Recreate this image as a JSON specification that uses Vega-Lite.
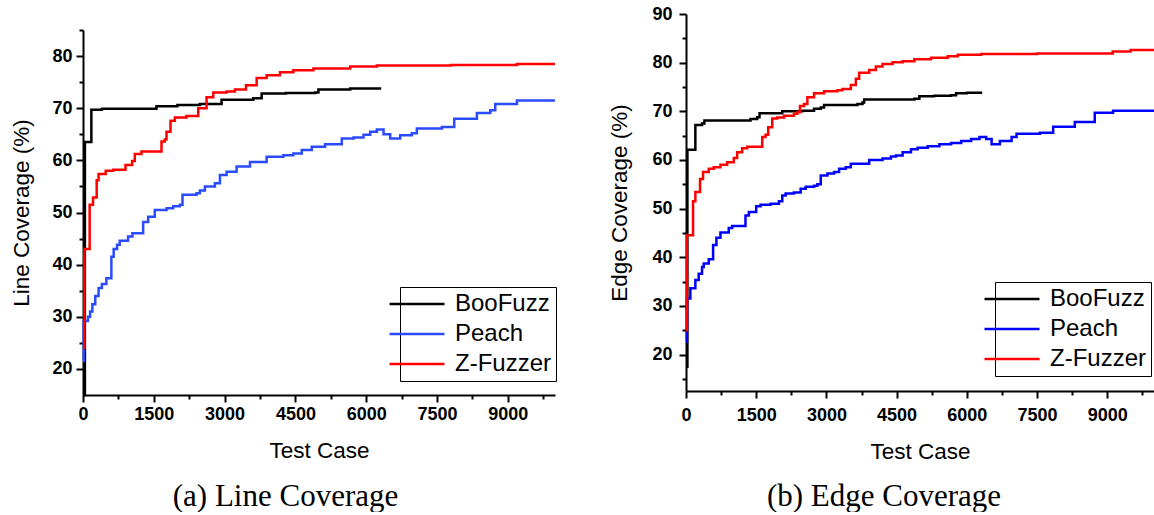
{
  "$schema": "https://vega.github.io/schema/vega-lite/v6.json",
  "padding": {"left": 10, "top": 5, "right": 0, "bottom": 0},
  "spacing": 48,
  "config": {
    "view": {"stroke": null},
    "axis": {
      "grid": false,
      "domainColor": "black", "domainWidth": 2,
      "tickColor": "black", "tickWidth": 2, "tickSize": 7,
      "labelFont": "Liberation Sans", "labelFontWeight": "bold", "labelFontSize": 18, "labelColor": "black",
      "titleFont": "Liberation Sans", "titleFontWeight": "normal", "titleFontSize": 22.5, "titleColor": "black"
    },
    "legend": {
      "orient": "none", "strokeColor": "black", "fillColor": "white", "padding": 5,
      "labelFont": "Liberation Sans", "labelFontSize": 24, "labelColor": "black",
      "symbolType": "M-5,0H5", "symbolSize": 121, "symbolStrokeWidth": 2.5,
      "labelOffset": 26, "rowPadding": 6
    },
    "title": {"font": "Liberation Serif", "fontSize": 31, "fontWeight": "normal", "color": "black", "orient": "bottom", "frame": "bounds"}
  },
  "datasets": {
    "line": [
      {"tool": "BooFuzz", "t": 0, "v": 15}, {"tool": "BooFuzz", "t": 40, "v": 63.5}, {"tool": "BooFuzz", "t": 177, "v": 69.7}, {"tool": "BooFuzz", "t": 400, "v": 69.9}, {"tool": "BooFuzz", "t": 1556, "v": 70.4}, {"tool": "BooFuzz", "t": 2000, "v": 70.6}, {"tool": "BooFuzz", "t": 2476, "v": 70.8}, {"tool": "BooFuzz", "t": 2936, "v": 71.6}, {"tool": "BooFuzz", "t": 3608, "v": 71.9}, {"tool": "BooFuzz", "t": 3785, "v": 72.8}, {"tool": "BooFuzz", "t": 4300, "v": 72.9}, {"tool": "BooFuzz", "t": 4917, "v": 73.0}, {"tool": "BooFuzz", "t": 4988, "v": 73.6}, {"tool": "BooFuzz", "t": 5660, "v": 73.8}, {"tool": "BooFuzz", "t": 6318, "v": 73.8},
      {"tool": "Peach", "t": 0, "v": 21.5}, {"tool": "Peach", "t": 15, "v": 29.2}, {"tool": "Peach", "t": 106, "v": 30.0}, {"tool": "Peach", "t": 150, "v": 31.0}, {"tool": "Peach", "t": 198, "v": 32.4}, {"tool": "Peach", "t": 260, "v": 34.0}, {"tool": "Peach", "t": 330, "v": 35.5}, {"tool": "Peach", "t": 400, "v": 36.3}, {"tool": "Peach", "t": 495, "v": 37.4}, {"tool": "Peach", "t": 601, "v": 41.5}, {"tool": "Peach", "t": 650, "v": 43.0}, {"tool": "Peach", "t": 722, "v": 43.8}, {"tool": "Peach", "t": 778, "v": 44.6}, {"tool": "Peach", "t": 955, "v": 45.4}, {"tool": "Peach", "t": 1047, "v": 46.0}, {"tool": "Peach", "t": 1274, "v": 48.2}, {"tool": "Peach", "t": 1380, "v": 49.2}, {"tool": "Peach", "t": 1521, "v": 50.5}, {"tool": "Peach", "t": 1769, "v": 50.8}, {"tool": "Peach", "t": 1910, "v": 51.2}, {"tool": "Peach", "t": 2052, "v": 51.5}, {"tool": "Peach", "t": 2108, "v": 53.4}, {"tool": "Peach", "t": 2406, "v": 53.7}, {"tool": "Peach", "t": 2476, "v": 54.2}, {"tool": "Peach", "t": 2582, "v": 55.0}, {"tool": "Peach", "t": 2795, "v": 55.6}, {"tool": "Peach", "t": 2901, "v": 57.2}, {"tool": "Peach", "t": 3042, "v": 57.8}, {"tool": "Peach", "t": 3254, "v": 58.8}, {"tool": "Peach", "t": 3538, "v": 59.7}, {"tool": "Peach", "t": 3891, "v": 60.7}, {"tool": "Peach", "t": 4245, "v": 61.0}, {"tool": "Peach", "t": 4457, "v": 61.3}, {"tool": "Peach", "t": 4634, "v": 62.0}, {"tool": "Peach", "t": 4846, "v": 62.6}, {"tool": "Peach", "t": 5129, "v": 63.1}, {"tool": "Peach", "t": 5483, "v": 64.2}, {"tool": "Peach", "t": 5731, "v": 64.4}, {"tool": "Peach", "t": 5943, "v": 64.9}, {"tool": "Peach", "t": 6084, "v": 65.5}, {"tool": "Peach", "t": 6226, "v": 65.9}, {"tool": "Peach", "t": 6368, "v": 65.0}, {"tool": "Peach", "t": 6509, "v": 64.2}, {"tool": "Peach", "t": 6720, "v": 64.8}, {"tool": "Peach", "t": 6967, "v": 65.2}, {"tool": "Peach", "t": 7073, "v": 66.1}, {"tool": "Peach", "t": 7604, "v": 66.4}, {"tool": "Peach", "t": 7865, "v": 68.0}, {"tool": "Peach", "t": 8345, "v": 69.1}, {"tool": "Peach", "t": 8628, "v": 69.6}, {"tool": "Peach", "t": 8734, "v": 70.8}, {"tool": "Peach", "t": 9194, "v": 71.5}, {"tool": "Peach", "t": 10000, "v": 71.5},
      {"tool": "Z-Fuzzer", "t": 0, "v": 24}, {"tool": "Z-Fuzzer", "t": 30, "v": 43}, {"tool": "Z-Fuzzer", "t": 141, "v": 51.5}, {"tool": "Z-Fuzzer", "t": 212, "v": 52.9}, {"tool": "Z-Fuzzer", "t": 290, "v": 56.2}, {"tool": "Z-Fuzzer", "t": 330, "v": 57.4}, {"tool": "Z-Fuzzer", "t": 481, "v": 58.0}, {"tool": "Z-Fuzzer", "t": 640, "v": 58.2}, {"tool": "Z-Fuzzer", "t": 900, "v": 59.1}, {"tool": "Z-Fuzzer", "t": 1040, "v": 59.9}, {"tool": "Z-Fuzzer", "t": 1097, "v": 61.2}, {"tool": "Z-Fuzzer", "t": 1238, "v": 61.7}, {"tool": "Z-Fuzzer", "t": 1663, "v": 63.6}, {"tool": "Z-Fuzzer", "t": 1733, "v": 64.0}, {"tool": "Z-Fuzzer", "t": 1769, "v": 65.5}, {"tool": "Z-Fuzzer", "t": 1854, "v": 67.6}, {"tool": "Z-Fuzzer", "t": 1946, "v": 68.2}, {"tool": "Z-Fuzzer", "t": 2193, "v": 68.5}, {"tool": "Z-Fuzzer", "t": 2441, "v": 70.0}, {"tool": "Z-Fuzzer", "t": 2618, "v": 72.1}, {"tool": "Z-Fuzzer", "t": 2760, "v": 73.0}, {"tool": "Z-Fuzzer", "t": 3042, "v": 73.2}, {"tool": "Z-Fuzzer", "t": 3219, "v": 73.6}, {"tool": "Z-Fuzzer", "t": 3453, "v": 74.4}, {"tool": "Z-Fuzzer", "t": 3679, "v": 75.8}, {"tool": "Z-Fuzzer", "t": 3891, "v": 76.3}, {"tool": "Z-Fuzzer", "t": 4174, "v": 76.9}, {"tool": "Z-Fuzzer", "t": 4457, "v": 77.3}, {"tool": "Z-Fuzzer", "t": 4882, "v": 77.6}, {"tool": "Z-Fuzzer", "t": 5660, "v": 78.0}, {"tool": "Z-Fuzzer", "t": 6226, "v": 78.2}, {"tool": "Z-Fuzzer", "t": 7800, "v": 78.3}, {"tool": "Z-Fuzzer", "t": 9194, "v": 78.5}, {"tool": "Z-Fuzzer", "t": 10000, "v": 78.5}
    ],
    "edge": [
      {"tool": "BooFuzz", "t": 0, "v": 17.5}, {"tool": "BooFuzz", "t": 30, "v": 62.1}, {"tool": "BooFuzz", "t": 200, "v": 67.2}, {"tool": "BooFuzz", "t": 343, "v": 67.5}, {"tool": "BooFuzz", "t": 393, "v": 68.1}, {"tool": "BooFuzz", "t": 1379, "v": 68.4}, {"tool": "BooFuzz", "t": 1521, "v": 68.8}, {"tool": "BooFuzz", "t": 1571, "v": 69.6}, {"tool": "BooFuzz", "t": 2057, "v": 70.0}, {"tool": "BooFuzz", "t": 2486, "v": 70.1}, {"tool": "BooFuzz", "t": 2736, "v": 70.5}, {"tool": "BooFuzz", "t": 2879, "v": 70.8}, {"tool": "BooFuzz", "t": 2950, "v": 71.3}, {"tool": "BooFuzz", "t": 3664, "v": 71.5}, {"tool": "BooFuzz", "t": 3771, "v": 71.8}, {"tool": "BooFuzz", "t": 3807, "v": 72.4}, {"tool": "BooFuzz", "t": 4879, "v": 72.6}, {"tool": "BooFuzz", "t": 4986, "v": 73.1}, {"tool": "BooFuzz", "t": 5300, "v": 73.2}, {"tool": "BooFuzz", "t": 5664, "v": 73.3}, {"tool": "BooFuzz", "t": 5771, "v": 73.7}, {"tool": "BooFuzz", "t": 6000, "v": 73.8}, {"tool": "BooFuzz", "t": 6329, "v": 73.8},
      {"tool": "Peach", "t": 0, "v": 22.6}, {"tool": "Peach", "t": 21, "v": 31.5}, {"tool": "Peach", "t": 93, "v": 33.6}, {"tool": "Peach", "t": 200, "v": 35.3}, {"tool": "Peach", "t": 271, "v": 36.6}, {"tool": "Peach", "t": 343, "v": 38.0}, {"tool": "Peach", "t": 379, "v": 38.7}, {"tool": "Peach", "t": 486, "v": 39.6}, {"tool": "Peach", "t": 579, "v": 42.5}, {"tool": "Peach", "t": 650, "v": 44.0}, {"tool": "Peach", "t": 736, "v": 45.1}, {"tool": "Peach", "t": 914, "v": 46.0}, {"tool": "Peach", "t": 986, "v": 46.4}, {"tool": "Peach", "t": 1271, "v": 48.6}, {"tool": "Peach", "t": 1343, "v": 49.3}, {"tool": "Peach", "t": 1500, "v": 50.5}, {"tool": "Peach", "t": 1593, "v": 50.8}, {"tool": "Peach", "t": 1807, "v": 51.0}, {"tool": "Peach", "t": 1986, "v": 51.5}, {"tool": "Peach", "t": 2057, "v": 52.7}, {"tool": "Peach", "t": 2129, "v": 53.1}, {"tool": "Peach", "t": 2307, "v": 53.3}, {"tool": "Peach", "t": 2450, "v": 54.1}, {"tool": "Peach", "t": 2557, "v": 54.5}, {"tool": "Peach", "t": 2736, "v": 54.7}, {"tool": "Peach", "t": 2807, "v": 55.0}, {"tool": "Peach", "t": 2879, "v": 56.8}, {"tool": "Peach", "t": 3021, "v": 57.2}, {"tool": "Peach", "t": 3164, "v": 57.5}, {"tool": "Peach", "t": 3271, "v": 58.2}, {"tool": "Peach", "t": 3414, "v": 58.5}, {"tool": "Peach", "t": 3521, "v": 59.2}, {"tool": "Peach", "t": 3914, "v": 60.0}, {"tool": "Peach", "t": 4200, "v": 60.3}, {"tool": "Peach", "t": 4379, "v": 60.7}, {"tool": "Peach", "t": 4486, "v": 60.9}, {"tool": "Peach", "t": 4629, "v": 61.6}, {"tool": "Peach", "t": 4807, "v": 62.2}, {"tool": "Peach", "t": 4950, "v": 62.5}, {"tool": "Peach", "t": 5164, "v": 62.8}, {"tool": "Peach", "t": 5414, "v": 63.2}, {"tool": "Peach", "t": 5664, "v": 63.5}, {"tool": "Peach", "t": 5879, "v": 63.9}, {"tool": "Peach", "t": 6093, "v": 64.3}, {"tool": "Peach", "t": 6271, "v": 64.7}, {"tool": "Peach", "t": 6414, "v": 64.3}, {"tool": "Peach", "t": 6530, "v": 63.2}, {"tool": "Peach", "t": 6707, "v": 63.9}, {"tool": "Peach", "t": 6957, "v": 64.7}, {"tool": "Peach", "t": 7063, "v": 65.4}, {"tool": "Peach", "t": 7561, "v": 65.6}, {"tool": "Peach", "t": 7845, "v": 66.8}, {"tool": "Peach", "t": 8308, "v": 67.8}, {"tool": "Peach", "t": 8734, "v": 69.7}, {"tool": "Peach", "t": 9125, "v": 70.1}, {"tool": "Peach", "t": 10000, "v": 70.1},
      {"tool": "Z-Fuzzer", "t": 0, "v": 25}, {"tool": "Z-Fuzzer", "t": 21, "v": 44.5}, {"tool": "Z-Fuzzer", "t": 150, "v": 51.5}, {"tool": "Z-Fuzzer", "t": 200, "v": 53.4}, {"tool": "Z-Fuzzer", "t": 300, "v": 56.1}, {"tool": "Z-Fuzzer", "t": 364, "v": 57.5}, {"tool": "Z-Fuzzer", "t": 486, "v": 58.2}, {"tool": "Z-Fuzzer", "t": 593, "v": 58.5}, {"tool": "Z-Fuzzer", "t": 736, "v": 59.0}, {"tool": "Z-Fuzzer", "t": 879, "v": 59.5}, {"tool": "Z-Fuzzer", "t": 1021, "v": 60.4}, {"tool": "Z-Fuzzer", "t": 1093, "v": 61.6}, {"tool": "Z-Fuzzer", "t": 1200, "v": 62.4}, {"tool": "Z-Fuzzer", "t": 1307, "v": 62.7}, {"tool": "Z-Fuzzer", "t": 1629, "v": 64.7}, {"tool": "Z-Fuzzer", "t": 1700, "v": 65.2}, {"tool": "Z-Fuzzer", "t": 1757, "v": 66.7}, {"tool": "Z-Fuzzer", "t": 1843, "v": 68.5}, {"tool": "Z-Fuzzer", "t": 1950, "v": 68.7}, {"tool": "Z-Fuzzer", "t": 2093, "v": 69.1}, {"tool": "Z-Fuzzer", "t": 2307, "v": 69.5}, {"tool": "Z-Fuzzer", "t": 2379, "v": 69.8}, {"tool": "Z-Fuzzer", "t": 2436, "v": 71.1}, {"tool": "Z-Fuzzer", "t": 2521, "v": 71.5}, {"tool": "Z-Fuzzer", "t": 2593, "v": 72.9}, {"tool": "Z-Fuzzer", "t": 2736, "v": 73.7}, {"tool": "Z-Fuzzer", "t": 2950, "v": 74.1}, {"tool": "Z-Fuzzer", "t": 3236, "v": 74.3}, {"tool": "Z-Fuzzer", "t": 3343, "v": 74.6}, {"tool": "Z-Fuzzer", "t": 3521, "v": 75.4}, {"tool": "Z-Fuzzer", "t": 3629, "v": 76.7}, {"tool": "Z-Fuzzer", "t": 3700, "v": 77.9}, {"tool": "Z-Fuzzer", "t": 3914, "v": 78.5}, {"tool": "Z-Fuzzer", "t": 4057, "v": 79.2}, {"tool": "Z-Fuzzer", "t": 4200, "v": 79.7}, {"tool": "Z-Fuzzer", "t": 4414, "v": 80.1}, {"tool": "Z-Fuzzer", "t": 4629, "v": 80.3}, {"tool": "Z-Fuzzer", "t": 4879, "v": 80.7}, {"tool": "Z-Fuzzer", "t": 5236, "v": 81.0}, {"tool": "Z-Fuzzer", "t": 5593, "v": 81.3}, {"tool": "Z-Fuzzer", "t": 5807, "v": 81.6}, {"tool": "Z-Fuzzer", "t": 6307, "v": 81.8}, {"tool": "Z-Fuzzer", "t": 7500, "v": 81.9}, {"tool": "Z-Fuzzer", "t": 9118, "v": 82.3}, {"tool": "Z-Fuzzer", "t": 9500, "v": 82.6}, {"tool": "Z-Fuzzer", "t": 10000, "v": 82.7}
    ]
  },
  "resolve": {"scale": {"color": "independent", "x": "independent", "y": "independent"}},
  "hconcat": [
    {
      "spacing": 14,
      "vconcat": [
        {
          "width": 472, "height": 1,
          "data": {"values": [{"a": 1}]},
          "mark": {"type": "point", "opacity": 0, "size": 0},
          "encoding": {}
        },
        {
          "width": 472, "height": 365,
          "data": {"name": "line"},
          "title": {"text": "(a) Line Coverage", "offset": 20},
          "resolve": {"axis": {"x": "independent", "y": "independent"}},
          "layer": [
            {
              "mark": {"type": "line", "interpolate": "step-after", "strokeWidth": 2.5},
              "encoding": {
                "x": {"field": "t", "type": "quantitative", "scale": {"domain": [0, 10000], "nice": false},
                      "axis": {"title": "Test Case", "format": "d", "values": [0, 1500, 3000, 4500, 6000, 7500, 9000], "labelPadding": 3, "titlePadding": 16, "labelFlush": false}},
                "y": {"field": "v", "type": "quantitative", "scale": {"domain": [15, 85], "nice": false, "zero": false},
                      "axis": {"title": "Line Coverage (%)", "values": [20, 30, 40, 50, 60, 70, 80], "labelPadding": 4, "titlePadding": 18}},
                "color": {"field": "tool", "type": "nominal",
                          "scale": {"domain": ["BooFuzz", "Peach", "Z-Fuzzer"], "range": ["#000000", "#2b4bff", "#ff0000"]},
                          "legend": {"title": null, "legendX": 317, "legendY": 273}}
              }
            },
            {
              "mark": {"type": "line", "opacity": 0},
              "encoding": {
                "x": {"field": "t", "type": "quantitative",
                      "axis": {"orient": "bottom", "title": null, "labels": false, "domain": false, "tickSize": 4, "values": [750, 2250, 3750, 5250, 6750, 8250, 9750]}},
                "y": {"field": "v", "type": "quantitative",
                      "axis": {"orient": "left", "title": null, "labels": false, "domain": false, "tickSize": 4, "values": [25, 35, 45, 55, 65, 75, 85]}}
              }
            }
          ]
        }
      ]
    },
    {
      "width": 468, "height": 377,
      "data": {"name": "edge"},
      "title": {"text": "(b) Edge Coverage", "offset": 19},
      "resolve": {"axis": {"x": "independent", "y": "independent"}},
      "layer": [
        {
          "mark": {"type": "line", "interpolate": "step-after", "strokeWidth": 2.5},
          "encoding": {
            "x": {"field": "t", "type": "quantitative", "scale": {"domain": [0, 10000], "nice": false},
                  "axis": {"title": "Test Case", "format": "d", "values": [0, 1500, 3000, 4500, 6000, 7500, 9000], "labelPadding": 8, "titlePadding": 16, "labelFlush": false}},
            "y": {"field": "v", "type": "quantitative", "scale": {"domain": [12.5, 90], "nice": false, "zero": false},
                  "axis": {"title": "Edge Coverage (%)", "values": [20, 30, 40, 50, 60, 70, 80, 90], "labelPadding": 7, "titlePadding": 20}},
            "color": {"field": "tool", "type": "nominal",
                      "scale": {"domain": ["BooFuzz", "Peach", "Z-Fuzzer"], "range": ["#000000", "#0000ff", "#ff0000"]},
                      "legend": {"title": null, "legendX": 309, "legendY": 268}}
          }
        },
        {
          "mark": {"type": "line", "opacity": 0},
          "encoding": {
            "x": {"field": "t", "type": "quantitative",
                  "axis": {"orient": "bottom", "title": null, "labels": false, "domain": false, "tickSize": 4, "values": [750, 2250, 3750, 5250, 6750, 8250, 9750]}},
            "y": {"field": "v", "type": "quantitative",
                  "axis": {"orient": "left", "title": null, "labels": false, "domain": false, "tickSize": 4, "values": [15, 25, 35, 45, 55, 65, 75, 85]}}
          }
        }
      ]
    }
  ]
}
